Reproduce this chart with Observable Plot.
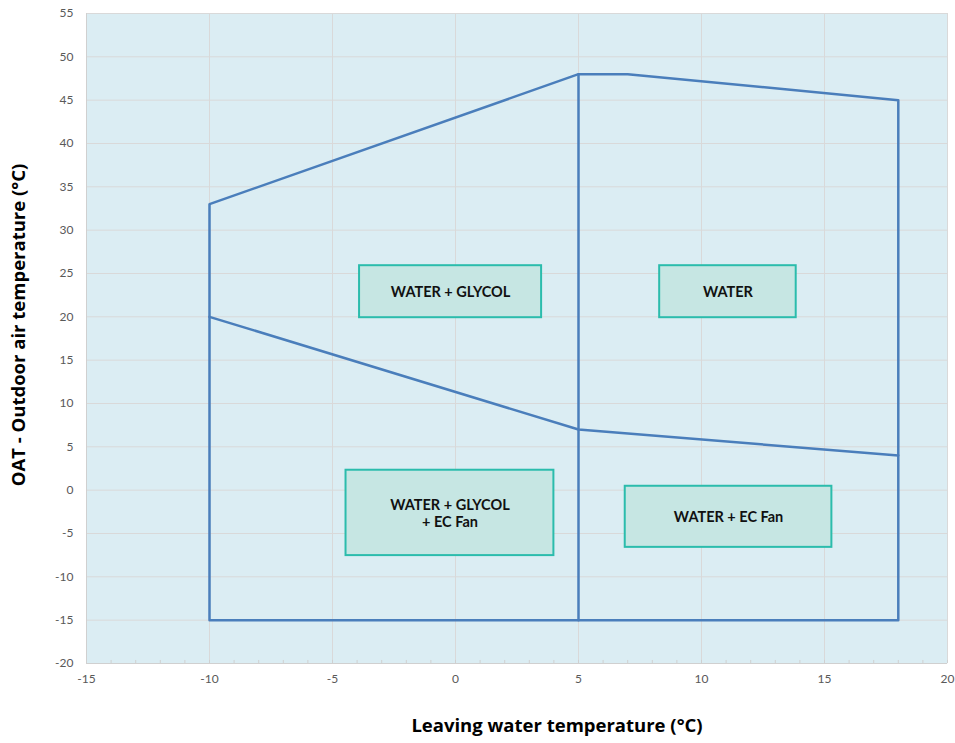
<!DOCTYPE html>
<html><head><meta charset="utf-8">
<script src="https://cdn.jsdelivr.net/npm/d3@7"></script>
<script src="https://cdn.jsdelivr.net/npm/@observablehq/plot@0.6"></script>
<style>body{margin:0;background:#fff;font-family:Lato,sans-serif}</style>
</head><body><div id="chart"></div>
<script>
// Operating envelope outline
const outlineX = [-10, -10, 5, 7, 18, 18, -10];
const outlineY = [-15, 33, 48, 48, 45, -15, -15];
// Vertical divider at LWT 5 °C
const dividerX = [5, 5];
const dividerY = [-15, 48];
// EC fan boundary
const fanX = [-10, 5, 18];
const fanY = [20, 7, 4];
// Region label boxes
const boxLabels = ["WATER + GLYCOL", "WATER", "WATER + GLYCOL\n+ EC Fan", "WATER + EC Fan"];
const boxX1 = [-3.9, 8.3, -4.45, 6.9];
const boxX2 = [3.5, 13.85, 4.0, 15.3];
const boxY1 = [19.9, 19.9, -7.55, -6.6];
const boxY2 = [25.9, 25.9, 2.3, 0.45];
// Ticks
const xTicks = d3.range(-15, 21, 5);
const yTicks = d3.range(-20, 56, 5);
const xMinor = d3.range(-15, 21, 1);
const xTitle = "Leaving water temperature (°C)";
const yTitle = "OAT - Outdoor air temperature (°C)";

const outline = outlineX.map((x, i) => ({x, y: outlineY[i]}));
const divider = dividerX.map((x, i) => ({x, y: dividerY[i]}));
const fan = fanX.map((x, i) => ({x, y: fanY[i]}));
const boxes = boxLabels.map((label, i) => ({label, x1: boxX1[i], x2: boxX2[i], y1: boxY1[i], y2: boxY2[i]}));

const lineColor = "#4a7ebb";
const fmt = d => String(d);
const plot = Plot.plot({
  width: 955, height: 743,
  marginLeft: 86, marginRight: 8, marginTop: 13, marginBottom: 80,
  style: {fontFamily: "Lato, sans-serif", background: "#fff"},
  x: {domain: [-15, 20], label: null},
  y: {domain: [-20, 55], label: null},
  marks: [
    Plot.frame({fill: "#dbedf3", stroke: "none"}),
    Plot.gridX(xTicks, {stroke: "#d9d9d9", strokeOpacity: 1, strokeWidth: 1}),
    Plot.gridY(yTicks, {stroke: "#d9d9d9", strokeOpacity: 1, strokeWidth: 1}),
    Plot.ruleX(xMinor, {x: d => d, y1: -20, y2: -19.65, stroke: "#d0d0d0"}),
    Plot.ruleY([-20], {stroke: "#d0d0d0"}),
    Plot.ruleX([-15], {stroke: "#d0d0d0"}),
    Plot.axisY({ticks: yTicks, tickSize: 0, tickPadding: 13, fontSize: 12, color: "#595959", tickFormat: fmt, label: null}),
    Plot.axisX({ticks: xTicks, tickSize: 0, tickPadding: 11, fontSize: 12, color: "#595959", tickFormat: fmt, label: null}),
    Plot.line(outline, {x: "x", y: "y", stroke: lineColor, strokeWidth: 2.5}),
    Plot.line(divider, {x: "x", y: "y", stroke: lineColor, strokeWidth: 2.5}),
    Plot.line(fan, {x: "x", y: "y", stroke: lineColor, strokeWidth: 2.5}),
    Plot.rect(boxes, {x1: "x1", x2: "x2", y1: "y1", y2: "y2", fill: "#c6e6e3", stroke: "#2bbcac", strokeWidth: 2}),
    Plot.text(boxes, {x: d => (d.x1 + d.x2) / 2, y: d => (d.y1 + d.y2) / 2, text: "label",
      fontSize: 14.5, fontWeight: "bold", fill: "#111", lineHeight: 1.2})
  ]
});
const svg = d3.select(plot);
svg.append("text").text(xTitle)
  .attr("x", 557).attr("y", 727).attr("text-anchor", "middle").attr("dominant-baseline", "middle")
  .attr("font-size", 18.5).attr("font-weight", "bold").attr("fill", "#000")
  .style("font-family", "'Open Sans', sans-serif");
svg.append("text").text(yTitle)
  .attr("transform", "translate(20,325) rotate(-90)").attr("text-anchor", "middle").attr("dominant-baseline", "middle")
  .attr("font-size", 18.5).attr("font-weight", "bold").attr("fill", "#000")
  .style("font-family", "'Open Sans', sans-serif");
document.getElementById("chart").appendChild(plot);
</script></body></html>
